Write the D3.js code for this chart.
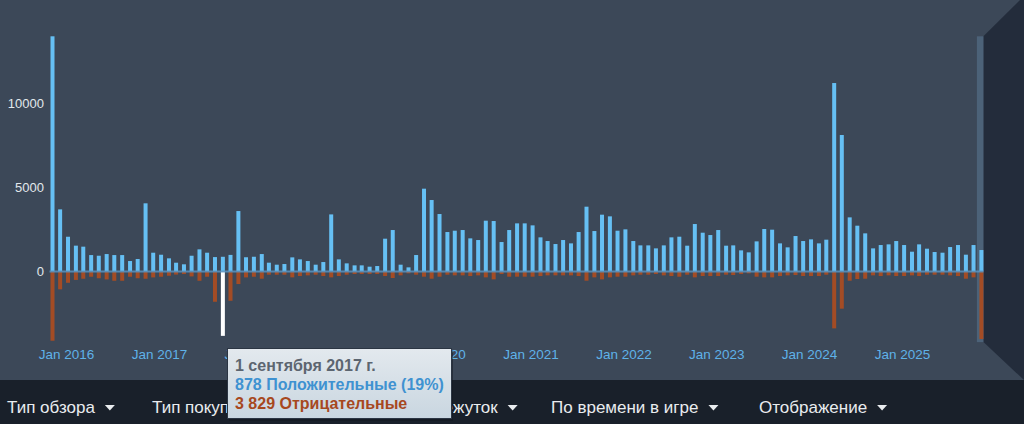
<!DOCTYPE html>
<html><head><meta charset="utf-8">
<script src="https://cdn.jsdelivr.net/npm/d3@7"></script>
<style>
html,body{margin:0;padding:0;background:#3c4858;}
svg{display:block;font-family:Arial,"Liberation Sans",sans-serif;}
</style></head>
<body>
<svg id="c" width="1024" height="424"></svg>
<script>
// ---- data ----
const firstMonth = "2015-11-01";
const positive = [14000,3700,2070,1540,1480,980,940,1040,980,980,625,745,4060,1120,1000,785,525,430,940,1320,1120,860,878,990,3600,
850,880,1040,526,407,446,843,724,625,407,565,3400,724,486,367,367,288,327,1954,2470,407,248,982,4930,4256,3423,2351,2430,2470,1974,1875,3026,3006,
1756,2470,2867,2867,2748,2034,1815,1637,1875,1676,2351,3859,2410,3383,3284,2430,2510,1815,1557,1557,1379,1557,2034,2073,1538,2827,2311,2172,2470,1538,1557,
1260,1141,1795,2530,2490,1676,1439,2113,1815,1915,1676,1895,11219,8125,3224,2728,2272,1379,1577,1617,1815,1577,1180,1617,1359,1161,1121,1458,1577,1002,1577,1280];
const negative = [4120,1060,670,500,430,310,400,470,550,550,310,400,430,350,310,250,180,150,290,550,310,1800,3829,1740,745,
350,310,427,188,188,188,347,268,228,188,268,347,268,188,149,149,149,149,268,387,228,109,188,307,427,307,188,228,228,268,228,347,466,
149,307,307,307,307,268,228,228,228,228,268,546,347,466,347,307,307,228,188,188,149,228,268,307,188,347,268,268,268,188,208,
149,109,307,347,347,268,228,208,268,268,268,188,3383,2212,546,446,427,228,268,228,268,268,228,268,188,188,188,228,268,427,347,4018];
const yTicks = [0, 5000, 10000];
const xTickLabels = ["Jan 2016","Jan 2017","Jan 2018","Jan 2019","Jan 2020","Jan 2021","Jan 2022","Jan 2023","Jan 2024","Jan 2025"];
const hoverMonth = "2017-09-01";
const tooltipLines = ["1 сентября 2017 г.", "878 Положительные (19%)", "3 829 Отрицательные"];
const menuItems = ["Тип обзора","Тип покупки","Язык","Промежуток","По времени в игре","Отображение"];

// ---- setup ----
const svg = d3.select("#c");
const W = 1024, H = 424;
const parse = d3.utcParse("%Y-%m-%d");
const start = parse(firstMonth);
const months = d3.utcMonth.range(start, d3.utcMonth.offset(start, positive.length));
const data = months.map((m,i)=>({m, pos:positive[i], neg:negative[i]}));
const hov = parse(hoverMonth).getTime();

const x = d3.scaleUtc().domain([start, d3.utcMonth.offset(start, positive.length)]).range([50.5, 50.5 + positive.length*7.74]);
const y = d3.scaleLinear().domain([-4200, 14000]).range([342.1, 36.3]);
const barW = 4;

svg.append("rect").attr("width",W).attr("height",H).attr("fill","#3c4858");

// right dark panel
const last = months[months.length-1];
const px = x(last) + barW;
svg.append("path")
  .attr("d", `M${px},${y(14000)} L${W-4},0 L${W},0 L${W},380 L${px},${y(-4200)} Z`)
  .attr("fill","#232c3b");

// highlight band at end of range
svg.append("rect")
  .attr("x", x(last) - 2.5).attr("width", 6.5)
  .attr("y", y(14000)).attr("height", y(-4200) - y(14000))
  .attr("fill","#4c6278");

// bars
svg.append("g").selectAll("rect").data(data).join("rect")
  .attr("x", d=>x(d.m)).attr("width", barW)
  .attr("y", d=>y(d.pos)).attr("height", d=>y(0)-y(d.pos))
  .attr("fill","#66c0f4");
svg.append("g").selectAll("rect").data(data).join("rect")
  .attr("x", d=>x(d.m)).attr("width", barW)
  .attr("y", y(0)).attr("height", d=>y(-d.neg)-y(0))
  .attr("fill", d=> d.m.getTime()===hov ? "#ffffff" : "#a34c25");

// zero line
svg.append("line")
  .attr("x1", x(start)-1).attr("x2", x(last)+barW)
  .attr("y1", y(0)).attr("y2", y(0))
  .attr("stroke","#5b97c6").attr("stroke-width",2).attr("opacity",0.8);

// y axis
const yAxis = d3.axisLeft(y).tickValues(yTicks).tickSize(0).tickPadding(0).tickFormat(d3.format("d"));
const gy = svg.append("g").attr("transform","translate(44,0)").call(yAxis);
gy.select(".domain").remove();
gy.selectAll("text").attr("fill","#e2e8ec").attr("font-size","13px").attr("font-family","Arial,'Liberation Sans',sans-serif");

// x axis
const xTickDates = xTickLabels.map(s=>d3.utcParse("%b %Y")(s));
const xAxis = d3.axisBottom(x).tickValues(xTickDates).tickSize(0).tickPadding(0)
  .tickFormat((d,i)=>xTickLabels[i]);
const gx = svg.append("g").attr("transform",`translate(0,${349})`).call(xAxis);
gx.select(".domain").remove();
gx.selectAll("text").attr("fill","#5fb2e8").attr("font-size","13.5px").attr("dy","0.71em").attr("font-family","Arial,'Liberation Sans',sans-serif");

// bottom bar
svg.append("rect").attr("x",0).attr("y",380).attr("width",W).attr("height",H-380).attr("fill","#19202a");
const menuX = [7,152,306,401,551,759];
const mg = svg.append("g");
menuItems.forEach((t,i)=>{
  const tx = mg.append("text").attr("x",menuX[i]).attr("y",413).attr("fill","#e9ecef")
    .attr("font-size","17px").text(t);
  const len = tx.node().getComputedTextLength();
  const tx0 = menuX[i]+len+10;
  mg.append("path").attr("d",`M${tx0},405 L${tx0+10},405 L${tx0+5},410.5 Z`).attr("fill","#e9ecef");
});

// tooltip
const tt = svg.append("g");
const defs = svg.append("defs");
const grad = defs.append("linearGradient").attr("id","tg").attr("x1",0).attr("y1",0).attr("x2",0).attr("y2",1);
grad.append("stop").attr("offset","0%").attr("stop-color","#e3e9ee");
grad.append("stop").attr("offset","100%").attr("stop-color","#c9d6e0");
tt.append("rect").attr("x",229).attr("y",351).attr("width",224).attr("height",70).attr("fill","#11161d").attr("opacity",0.5);
tt.append("rect").attr("x",227.5).attr("y",348.5).attr("width",224).attr("height",70)
  .attr("fill","url(#tg)").attr("stroke","#2b3543").attr("stroke-width",1);
const tColors = ["#5c6570","#3f92d1","#a7481e"];
tooltipLines.forEach((t,i)=>{
  tt.append("text").attr("x",235).attr("y",371 + i*19).attr("fill",tColors[i])
    .attr("font-size","16px").attr("font-weight","bold").text(t);
});
</script>
</body></html>
